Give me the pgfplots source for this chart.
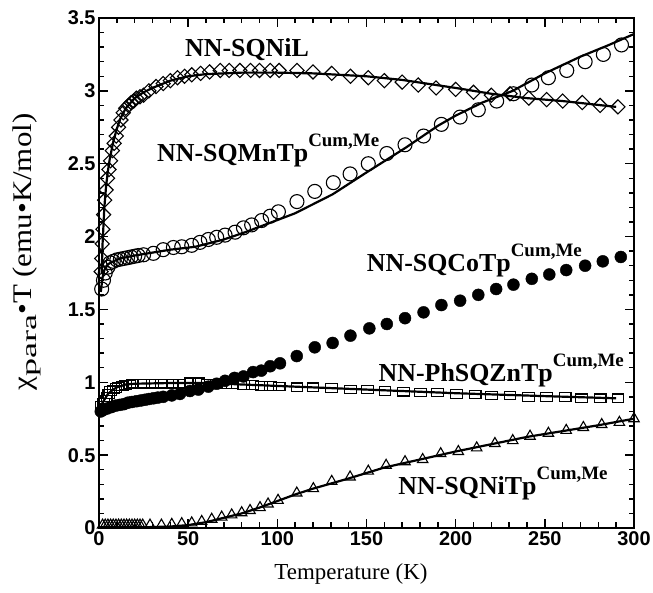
\documentclass[border=0pt]{standalone}
\usepackage{fontspec}
\setmainfont{Liberation Serif}
\setsansfont{Liberation Sans}
\usepackage{graphicx}
\usepackage{pgfplots}
\pgfplotsset{compat=1.18}

% compound name with raised superscript
\newcommand{\lab}[2]{\fontsize{26}{26}\selectfont\bfseries #1\raisebox{15bp}{\fontsize{19}{19}\selectfont #2}}

\begin{document}
\begin{tikzpicture}
\begin{axis}[
    scale only axis,
    width=535bp, height=510bp,
    xmin=0, xmax=300, ymin=0, ymax=3.5,
    xtick={0,50,...,300}, ytick={0,0.5,1,1.5,2,2.5,3,3.5},
    minor x tick num=4, minor y tick num=4,
    tick align=inside, tick pos=both,
    major tick length=9bp, minor tick length=5.5bp,
    every tick/.style={black, line width=1.4bp},
    axis line style={line width=1.8bp},
    clip=false,
    /pgf/number format/assume math mode=true,
    tick label style={font=\fontsize{20}{20}\selectfont\sffamily\bfseries},
    xlabel={Temperature (K)},
    ylabel={\scalebox{1.15}[1]{χ\raisebox{-5bp}{\fontsize{21}{21}\selectfont\scalebox{1.5}[1]{para}}•T (emu•K/mol)}},
    x label style={font=\fontsize{23}{23}\selectfont, at={(axis description cs:0.471,-0.09)}, anchor=center},
    y label style={font=\fontsize{27}{27}\selectfont, at={(axis description cs:-0.135,0.541)}, anchor=center},
]
% fitted curves
\addplot[black, line width=2.2bp] coordinates {
    (1.5,1.75) (2,1.95) (3,2.2) (4,2.35) (5,2.45) (6,2.53) (8,2.65) (10,2.74)
    (12,2.81) (15,2.88) (20,2.95) (25,2.99) (30,3.02) (40,3.07) (50,3.10)
    (60,3.115) (80,3.125) (100,3.125) (120,3.12) (150,3.10) (170,3.075)
    (200,3.02) (220,2.98) (240,2.95) (260,2.93) (290,2.89)
};
\addplot[black, line width=2.2bp] coordinates {
    (1,1.62) (2,1.72) (3,1.77) (5,1.81) (8,1.83) (12,1.85) (20,1.87) (30,1.89)
    (40,1.91) (54,1.93) (70,1.98) (82,2.03) (95,2.09) (110,2.16) (131,2.29)
    (150,2.44) (172,2.61) (190,2.76) (200,2.83) (215,2.92) (232,3.0)
    (250,3.12) (270,3.235) (285,3.31) (300,3.39)
};
\addplot[black, line width=2.2bp] coordinates {
    (1,0.84) (3,0.88) (5,0.92) (8,0.95) (10,0.965) (15,0.985) (20,0.99)
    (40,0.995) (60,0.995) (80,0.985) (100,0.975) (120,0.965) (150,0.95)
    (200,0.925) (250,0.905) (290,0.89)
};
\addplot[black, line width=2.2bp] coordinates {
    (0,0.005) (25,0.005) (40,0.01) (50,0.02) (60,0.04) (70,0.07) (80,0.10)
    (90,0.14) (100,0.185) (110,0.23) (120,0.27) (140,0.34) (160,0.415)
    (180,0.47) (200,0.525) (220,0.575) (240,0.625) (260,0.665) (280,0.705)
    (300,0.75)
};
% NN-SQNiL
\addplot[only marks, mark=square, mark size=5bp, mark options={rotate=45, line width=1.1bp}] coordinates {
    (1.2,1.76) (1.5,1.85) (1.8,1.95) (2.2,2.05) (2.6,2.15) (3.2,2.25) (4,2.32)
    (4.8,2.4) (5.6,2.46) (6.5,2.52) (7.5,2.59) (8.5,2.64) (9.7,2.69) (11,2.75)
    (12.3,2.8) (13.6,2.85) (15,2.88) (16.5,2.9) (18,2.92) (19.5,2.93) (21,2.95)
    (23,2.96) (25,2.97) (28,3.0) (32,3.03) (36,3.05) (40,3.07) (44,3.09)
    (48,3.1) (52,3.11) (57,3.12) (62,3.13) (68,3.14) (73,3.14) (79,3.14)
    (85,3.14) (90,3.14) (96,3.14) (101,3.14) (111,3.14) (120,3.13) (130.5,3.12)
    (141,3.10) (151,3.09) (160,3.07) (170,3.06) (179,3.04) (189,3.02) (200,3.01)
    (210,2.99) (220,2.97) (230.5,2.98) (241,2.95) (251,2.94) (260,2.93)
    (271,2.92) (281,2.90) (291,2.89)
};
% NN-SQMnTp
\addplot[only marks, mark=o, mark size=7bp, mark options={line width=1.1bp}] coordinates {
    (1.5,1.64) (2.5,1.70) (3.5,1.75) (5,1.79) (6.2,1.82) (8,1.83) (10,1.84)
    (12,1.845) (14,1.85) (16,1.855) (18,1.86) (20,1.865) (22,1.87) (25,1.875)
    (30.5,1.885) (36,1.91) (41.7,1.925) (46.4,1.93) (52,1.94) (56.6,1.96)
    (61.3,1.98) (66,1.995) (70.7,2.01) (76.3,2.03) (81,2.06) (85.6,2.08)
    (91.2,2.11) (96,2.14) (100.6,2.17) (111,2.24) (121,2.31) (131.4,2.37)
    (140.8,2.43) (151,2.50) (161.4,2.57) (171.6,2.63) (182,2.69) (192,2.77)
    (202.5,2.82) (212.7,2.87) (223,2.93) (232.4,2.98) (242.7,3.04) (252,3.09)
    (262.3,3.14) (272.6,3.20) (282.8,3.25) (293,3.315)
};
% NN-SQCoTp
\addplot[only marks, mark=*, mark size=6bp, mark options={black}] coordinates {
    (1,0.80) (2.4,0.81) (4.5,0.82) (7,0.83) (9.5,0.84) (11.8,0.845) (14,0.85)
    (16.3,0.86) (18.5,0.865) (21,0.87) (23.5,0.875) (25.8,0.88) (28,0.885)
    (30.5,0.89) (33,0.895) (36,0.90) (40.8,0.91) (45.4,0.92) (51,0.94)
    (55.7,0.95) (61.3,0.97) (66,0.99) (70.7,1.01) (76,1.03) (81,1.04)
    (86.4,1.07) (91,1.08) (96,1.11) (101.5,1.13) (110.9,1.18) (121,1.24)
    (131,1.27) (141,1.32) (151.6,1.37) (161.4,1.40) (171.6,1.44) (182,1.48)
    (192,1.53) (202.5,1.56) (212.7,1.60) (222.7,1.64) (232.4,1.67) (242.7,1.71)
    (252.5,1.74) (262,1.77) (272.6,1.80) (282.5,1.83) (292.6,1.86)
};
% NN-PhSQZnTp
\addplot[only marks, mark=square, mark size=4.5bp, mark options={xscale=1.3, yscale=0.95, line width=1.1bp}] coordinates {
    (1.5,0.84) (2.5,0.86) (3.5,0.88) (4.5,0.90) (5.5,0.92) (6.5,0.94) (8,0.95)
    (9.5,0.96) (11,0.97) (13,0.975) (15,0.98) (17,0.985) (19,0.99) (25,0.99)
    (30,0.99) (35,0.99) (41,0.99) (45,0.99) (51,1.0) (56,1.0) (61,0.99)
    (66,0.99) (71,0.985) (75,0.985) (81,0.98) (86,0.98) (91,0.975) (96,0.975)
    (101,0.97) (111,0.966) (120,0.966) (130.5,0.96) (141,0.95) (150.5,0.95)
    (160.4,0.94) (170.7,0.935) (180.4,0.93) (189.7,0.93) (200.6,0.92)
    (210.9,0.915) (220.2,0.91) (230.5,0.91) (240.8,0.90) (251,0.90)
    (261.4,0.90) (270.7,0.89) (281,0.89) (291,0.89)
};
% NN-SQNiTp
\addplot[only marks, mark=triangle, mark size=6bp, mark options={line width=1.1bp}] coordinates {
    (2,0.02) (3.5,0.02) (5,0.02) (6.5,0.02) (8,0.02) (9.5,0.02) (11,0.02)
    (12.5,0.02) (14,0.02) (15.5,0.02) (17,0.02) (18.5,0.02) (20,0.02)
    (21.5,0.02) (23,0.02) (24.5,0.02) (28.6,0.02) (35,0.02) (40.8,0.025)
    (46.4,0.03) (52,0.035) (57.6,0.045) (63.2,0.06) (68.8,0.075) (74.4,0.09)
    (80,0.105) (84.7,0.12) (90.3,0.14) (94.8,0.165) (100.4,0.19) (110.9,0.24)
    (120.2,0.27) (130.5,0.32) (140.8,0.35) (151,0.39) (161,0.43) (171.6,0.455)
    (181.5,0.47) (191.6,0.51) (201.5,0.525) (211.8,0.55) (222,0.58) (232,0.60)
    (241.7,0.63) (252,0.65) (262,0.67) (271.6,0.69) (281.9,0.71) (291.8,0.725)
    (300,0.75)
};
\node[anchor=base west, inner sep=0] at (axis cs:48.2,3.235) {\lab{NN-SQNiL}{}};
\node[anchor=base west, inner sep=0] at (axis cs:32.5,2.514) {\lab{NN-SQMnTp}{Cum,Me}};
\node[anchor=base west, inner sep=0] at (axis cs:150.1,1.759) {\lab{NN-SQCoTp}{Cum,Me}};
\node[anchor=base west, inner sep=0] at (axis cs:156.7,1.004) {\lab{NN-PhSQZnTp}{Cum,Me}};
\node[anchor=base west, inner sep=0] at (axis cs:167.8,0.233) {\lab{NN-SQNiTp}{Cum,Me}};
\end{axis}
\pgfresetboundingbox
\path ([shift={(-99bp,-65bp)}]current axis.south west) rectangle ([shift={(19bp,18bp)}]current axis.north east);
\end{tikzpicture}
\end{document}
